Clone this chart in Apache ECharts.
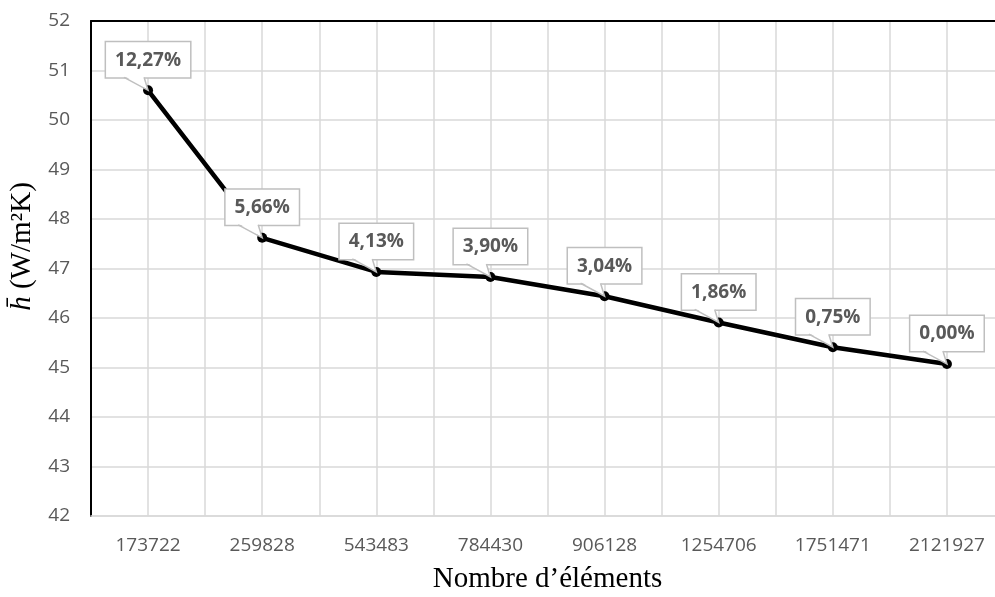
<!DOCTYPE html>
<html><head><meta charset="utf-8">
<script src="https://cdn.jsdelivr.net/npm/echarts@6/dist/echarts.min.js"></script>
<style>html,body{margin:0;padding:0;background:#fff}#c{width:995px;height:597px}</style>
</head><body><div id="c"></div>
<script>
const categories = ['173722','259828','543483','784430','906128','1254706','1751471','2121927'];
const hValues = [50.60, 47.62, 46.93, 46.83, 46.44, 45.91, 45.41, 45.07];
const deviationLabels = ['12,27%','5,66%','4,13%','3,90%','3,04%','1,86%','0,75%','0,00%'];
const yMin = 42, yMax = 52, yStep = 1;

const chart = echarts.init(document.getElementById('c'), null, {renderer:'canvas'});
const grey = '#d9d9d9';
const textGrey = '#595959';

chart.setOption({
  animation: false,
  backgroundColor: '#fff',
  grid: {left: 91, top: 21, width: 913, bottom: 81, containLabel: false, outerBoundsMode: 'none'},
  xAxis: [
    {
      type: 'category', data: categories, boundaryGap: true, position: 'bottom',
      axisLine: {lineStyle: {color: grey, width: 1.5}},
      axisTick: {show: false},
      axisLabel: {color: textGrey, fontSize: 19, fontFamily: 'Open Sans', margin: 20},
      splitLine: {show: false},
      name: 'Nombre d\u2019éléments', nameLocation: 'middle', nameGap: 49,
      nameTextStyle: {fontFamily: 'Liberation Serif', fontSize: 29, color: '#000'}
    },
    {
      type: 'value', position: 'top', min: 0, max: categories.length * 2, interval: 1,
      axisLine: {show: true, onZero: false, lineStyle: {color: '#000', width: 2}},
      axisTick: {show: false}, axisLabel: {show: false},
      splitLine: {show: true, lineStyle: {color: grey, width: 1.5}}
    }
  ],
  yAxis: {
    type: 'value', min: yMin, max: yMax, interval: yStep,
    axisLine: {show: true, lineStyle: {color: '#000', width: 2}},
    axisTick: {show: false},
    axisLabel: {color: textGrey, fontSize: 19, fontFamily: 'Open Sans', margin: 21},
    splitLine: {lineStyle: {color: grey, width: 1.5}},
    name: '{h|h\u0304} (W/m\u00B2K)', nameLocation: 'middle', nameRotate: 90, nameGap: 42,
    nameTextStyle: {
      fontFamily: 'Liberation Serif', fontSize: 29, color: '#000', padding: [0, 0, 0, 44],
      rich: {h: {fontStyle: 'italic', fontFamily: 'Liberation Serif', fontSize: 29, color: '#000'}}
    }
  },
  series: [
    {
      type: 'line', xAxisIndex: 0, yAxisIndex: 0, data: hValues, z: 2,
      lineStyle: {color: '#000', width: 4.5},
      itemStyle: {color: '#000'},
      symbol: 'circle', symbolSize: 10, showSymbol: true
    },
    {
      type: 'custom', xAxisIndex: 0, yAxisIndex: 0, z: 3,
      data: hValues.map((v, i) => [i, v]),
      renderItem: function (params, api) {
        const p = api.coord([api.value(0), api.value(1)]);
        const txt = deviationLabels[params.dataIndex];
        const gap = 13;
        return {
          type: 'group',
          children: [
            {
              type: 'text', x: p[0], y: p[1] - gap,
              style: {
                text: txt, align: 'center', verticalAlign: 'bottom',
                fontFamily: 'Open Sans', fontWeight: 'bold', fontSize: 19, lineHeight: 22,
                fill: textGrey, backgroundColor: '#fff', borderColor: '#bfbfbf', borderWidth: 1.5,
                padding: [7, 9, 6, 9]
              }
            },
            {
              type: 'polygon',
              shape: {points: [[p[0] - 24, p[1] - gap - 1.5], [p[0] - 4, p[1] - gap - 1.5], [p[0], p[1]]]},
              style: {fill: '#fff', stroke: null}
            },
            {
              type: 'polyline',
              shape: {points: [[p[0] - 24, p[1] - gap], [p[0], p[1]], [p[0] - 4, p[1] - gap]]},
              style: {stroke: '#bfbfbf', lineWidth: 1.5, fill: null}
            }
          ]
        };
      }
    }
  ]
});
</script>
</body></html>
